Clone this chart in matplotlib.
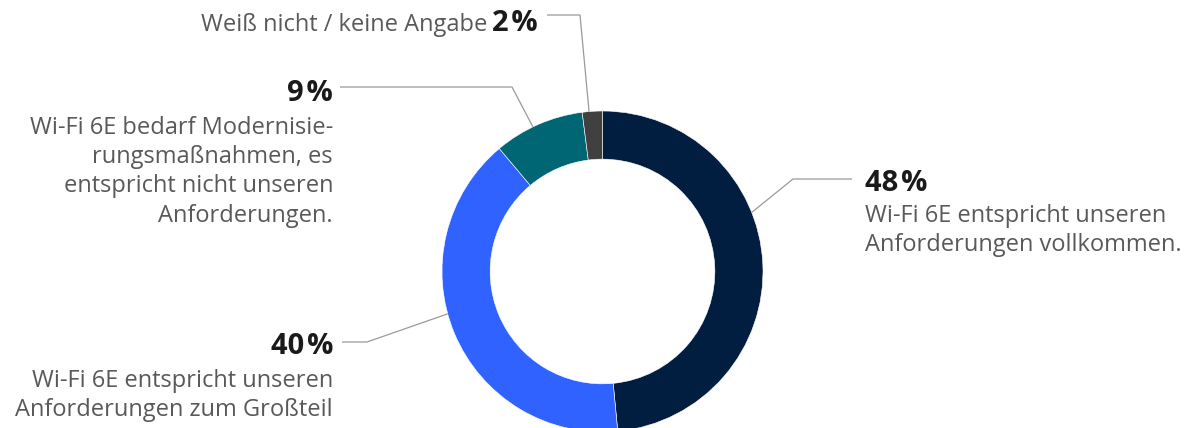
import matplotlib
matplotlib.use("Agg")
import matplotlib.pyplot as plt
import numpy as np

plt.rcParams['font.family'] = ['Open Sans', 'DejaVu Sans']

W, H = 1196, 428

# data
labels = [
    ["Wi-Fi 6E entspricht unseren", "Anforderungen vollkommen."],
    ["Wi-Fi 6E entspricht unseren", "Anforderungen zum Großteil"],
    ["Wi-Fi 6E bedarf Modernisie-", "rungsmaßnahmen, es", "entspricht nicht unseren", "Anforderungen."],
    ["Weiß nicht / keine Angabe"],
]
shares = [48, 40, 9, 2]
colors = ["#011e41", "#2f62ff", "#006673", "#404040"]

# layout in image pixels (y from top)
CX, CY, R = 602.5, 271.5, 160.5
anchor_angle = [21.6, 195.3, 115.7, 94.8]      # where the leader line touches the ring
elbow = [(793, 179), (367, 342), (512, 87), (580, 15)]
line_end = [(852, 179), (342, 342), (340, 87), (547, 15)]
pct_pos = [(865, 183, 'left'), (333, 347, 'right'), (333, 93, 'right'), (492, 23, 'left')]
text_pos = [(865, 216, 'left'), (333, 381, 'right'), (333, 128, 'right'), (487, 25, 'right')]
LINE_STEP = 29.2

TEXT_COLOR = "#595959"
PCT_COLOR = "#1a1a1a"
LEADER_COLOR = "#9a9a9a"


def Y(y):
    return H - y


fig = plt.figure(figsize=(W / 100, H / 100), dpi=100)
ax = fig.add_axes([0, 0, 1, 1])

ax.pie(shares, colors=colors, startangle=90, counterclock=False,
       radius=R, center=(CX, Y(CY)),
       wedgeprops=dict(width=R * 0.3, edgecolor='white', linewidth=0.4))

for i in range(len(shares)):
    a = np.radians(anchor_angle[i])
    ax_x = CX + R * np.cos(a)
    ax_y = Y(CY) + R * np.sin(a)
    xs = [ax_x, elbow[i][0], line_end[i][0]]
    ys = [ax_y, Y(elbow[i][1]), Y(line_end[i][1])]
    ax.plot(xs, ys, color=LEADER_COLOR, linewidth=0.9, solid_capstyle='butt')

    px, py, pha = pct_pos[i]
    ax.text(px, Y(py), f"{shares[i]}\u200a%", ha=pha, va='center',
            fontsize=21, fontweight='bold', color=PCT_COLOR)

    tx, ty, tha = text_pos[i]
    for k, line in enumerate(labels[i]):
        ax.text(tx, Y(ty + k * LINE_STEP), line, ha=tha, va='center',
                fontsize=17, color=TEXT_COLOR)

ax.set_xlim(0, W)
ax.set_ylim(0, H)
ax.set_aspect('equal')
ax.axis('off')

fig.savefig("out.png", dpi=100)
